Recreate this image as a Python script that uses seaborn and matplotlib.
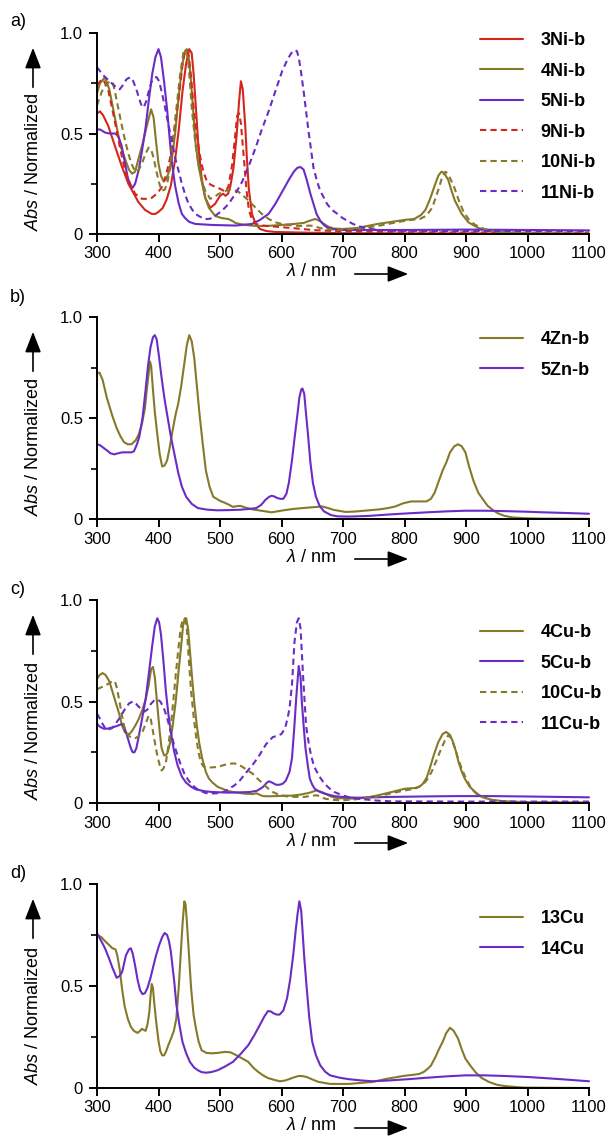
import numpy as np
import pandas as pd
import matplotlib
matplotlib.use("Agg")
import matplotlib.pyplot as plt
import seaborn as sns

# ---------------- data ----------------
# Panel a
ni3_x = [300,305,310,318,330,340,351,360,367,378,389,395,400,407,413,420,427,433,439,445,450,454,457,461,465,470,476,484,492,500,505,509,513,517,522,527,531,534,537,541,544,547,552,558,565,575,590,650,700,800,900,1000,1100]
ni3_y = [0.60,0.61,0.59,0.54,0.43,0.34,0.25,0.20,0.16,0.12,0.10,0.10,0.11,0.13,0.17,0.24,0.37,0.52,0.71,0.85,0.92,0.90,0.80,0.62,0.43,0.28,0.18,0.13,0.15,0.19,0.20,0.19,0.20,0.24,0.33,0.49,0.66,0.76,0.72,0.54,0.36,0.22,0.10,0.05,0.025,0.015,0.01,0.006,0.004,0.003,0.003,0.002,0.002]

ni4_x = [300,305,313,320,329,338,346,352,357,362,368,375,382,388,392,396,400,404,408,412,416,422,427,432,438,443,446,449,452,456,460,465,471,476,482,492,502,514,520,525,535,547,560,576,600,620,636,645,655,662,669,677,685,700,723,740,756,778,800,816,827,834,841,849,855,860,864,871,876,882,888,893,904,920,942,960,1000,1100]
ni4_y = [0.70,0.75,0.78,0.72,0.58,0.44,0.37,0.32,0.30,0.31,0.38,0.46,0.55,0.62,0.58,0.46,0.35,0.29,0.265,0.27,0.30,0.38,0.50,0.66,0.83,0.91,0.92,0.88,0.79,0.63,0.46,0.34,0.25,0.18,0.13,0.09,0.08,0.074,0.065,0.055,0.048,0.043,0.04,0.04,0.045,0.05,0.055,0.065,0.075,0.065,0.05,0.035,0.027,0.025,0.03,0.04,0.05,0.06,0.07,0.075,0.095,0.12,0.17,0.24,0.29,0.31,0.305,0.27,0.22,0.165,0.13,0.10,0.058,0.03,0.014,0.008,0.004,0.002]

ni5_x = [300,305,313,320,329,334,340,345,350,355,358,362,368,373,379,384,390,395,400,404,409,414,418,422,427,433,438,443,450,460,487,525,552,565,579,590,601,612,620,626,631,636,641,647,652,657,663,669,674,685,696,800,900,1000,1100]
ni5_y = [0.52,0.52,0.505,0.50,0.50,0.49,0.44,0.36,0.28,0.235,0.23,0.25,0.32,0.41,0.53,0.66,0.80,0.88,0.92,0.88,0.76,0.62,0.48,0.35,0.24,0.15,0.10,0.08,0.06,0.05,0.045,0.042,0.05,0.07,0.10,0.15,0.21,0.27,0.31,0.33,0.333,0.32,0.27,0.20,0.15,0.10,0.066,0.045,0.033,0.024,0.02,0.02,0.022,0.02,0.018]

ni9_x = [300,305,310,318,329,338,346,354,362,373,381,389,397,405,412,419,426,433,439,443,447,449,453,457,462,468,473,479,485,492,500,509,514,520,524,528,531,534,539,543,547,552,558,570,585,600,623,650,700,800,900,1000,1100]
ni9_y = [0.74,0.76,0.77,0.72,0.56,0.42,0.31,0.25,0.20,0.175,0.175,0.18,0.20,0.23,0.29,0.38,0.52,0.68,0.84,0.91,0.91,0.89,0.78,0.63,0.50,0.38,0.31,0.26,0.245,0.235,0.225,0.21,0.24,0.35,0.47,0.59,0.60,0.55,0.37,0.22,0.12,0.07,0.05,0.042,0.038,0.034,0.028,0.02,0.012,0.009,0.008,0.007,0.007]

ni10_x = [300,308,314,321,326,329,335,340,346,351,356,362,368,373,379,384,388,392,396,400,405,410,414,419,424,430,435,441,445,448,451,454,460,465,471,476,484,491,498,506,514,522,530,538,547,558,568,579,590,605,623,636,645,652,660,669,685,700,730,760,790,810,825,835,845,855,862,867,872,880,888,896,905,915,930,950,975,1000,1100]
ni10_y = [0.64,0.71,0.74,0.76,0.75,0.71,0.62,0.545,0.46,0.40,0.35,0.31,0.32,0.35,0.40,0.43,0.42,0.38,0.32,0.265,0.215,0.22,0.25,0.33,0.48,0.65,0.79,0.91,0.91,0.87,0.76,0.63,0.45,0.35,0.26,0.215,0.175,0.185,0.20,0.21,0.22,0.22,0.21,0.19,0.165,0.13,0.10,0.075,0.058,0.047,0.041,0.04,0.042,0.04,0.032,0.025,0.021,0.022,0.028,0.042,0.06,0.07,0.075,0.09,0.13,0.22,0.29,0.31,0.29,0.24,0.17,0.11,0.07,0.045,0.025,0.012,0.006,0.004,0.002]

ni11_x = [300,305,310,317,324,331,337,342,348,354,359,365,370,373,376,380,385,389,394,397,401,405,410,416,422,427,433,438,444,449,455,460,468,476,484,492,503,514,525,536,547,558,568,579,590,601,610,616,621,625,628,632,636,640,644,648,652,658,663,669,674,682,691,699,707,715,723,734,745,760,778,850,950,1100]
ni11_y = [0.83,0.81,0.79,0.77,0.75,0.73,0.72,0.74,0.77,0.78,0.76,0.71,0.66,0.635,0.63,0.66,0.72,0.76,0.78,0.78,0.76,0.71,0.64,0.545,0.46,0.38,0.31,0.25,0.19,0.15,0.12,0.10,0.085,0.074,0.076,0.09,0.115,0.15,0.20,0.26,0.34,0.43,0.52,0.61,0.71,0.81,0.87,0.90,0.915,0.91,0.88,0.80,0.71,0.61,0.51,0.42,0.33,0.26,0.215,0.18,0.15,0.12,0.10,0.08,0.066,0.052,0.041,0.032,0.025,0.02,0.016,0.015,0.015,0.015]

# Panel b
zn4_x = [300,304,309,316,325,332,338,344,350,356,363,368,373,378,381,384,386,388,391,394,398,402,406,410,414,418,423,428,432,437,442,446,450,454,458,462,467,472,477,483,489,500,508,515,521,528,533,540,552,565,584,603,620,634,650,666,675,685,704,720,742,760,773,785,798,811,825,836,843,849,856,862,868,874,881,887,893,899,905,912,920,928,935,943,952,962,975,994,1020,1100]
zn4_y = [0.72,0.725,0.69,0.60,0.51,0.45,0.41,0.38,0.37,0.37,0.39,0.42,0.47,0.55,0.64,0.72,0.78,0.76,0.64,0.53,0.42,0.32,0.26,0.265,0.29,0.35,0.44,0.52,0.57,0.66,0.77,0.86,0.91,0.88,0.80,0.67,0.51,0.37,0.24,0.16,0.11,0.09,0.08,0.07,0.06,0.064,0.065,0.058,0.048,0.042,0.033,0.043,0.05,0.054,0.058,0.062,0.055,0.045,0.035,0.037,0.043,0.048,0.054,0.062,0.078,0.087,0.087,0.087,0.10,0.13,0.19,0.24,0.28,0.33,0.36,0.37,0.36,0.33,0.26,0.19,0.13,0.095,0.066,0.046,0.028,0.016,0.008,0.004,0.002,0.001]

zn5_x = [300,305,316,322,328,334,341,350,356,360,365,369,374,379,383,387,391,394,397,401,405,410,415,420,426,432,438,445,454,464,480,496,515,533,548,559,567,574,580,584,588,593,598,603,608,612,617,622,626,629,632,634,637,639,643,647,651,656,662,669,680,691,710,740,773,800,836,870,899,930,962,1000,1026,1060,1100]
zn5_y = [0.37,0.365,0.34,0.325,0.32,0.325,0.33,0.33,0.33,0.335,0.37,0.41,0.50,0.64,0.76,0.85,0.90,0.91,0.89,0.80,0.70,0.59,0.50,0.41,0.32,0.23,0.16,0.11,0.075,0.054,0.046,0.043,0.044,0.046,0.05,0.054,0.07,0.095,0.11,0.115,0.112,0.104,0.10,0.10,0.125,0.18,0.29,0.42,0.52,0.60,0.64,0.646,0.62,0.55,0.42,0.28,0.18,0.11,0.065,0.038,0.02,0.013,0.012,0.015,0.022,0.027,0.033,0.038,0.041,0.041,0.039,0.036,0.033,0.03,0.026]

# Panel c
cu4_x = [300,304,309,314,320,325,330,336,341,345,349,353,358,363,368,374,379,384,388,391,394,396,399,402,405,409,412,415,419,423,428,433,437,440,443,445,448,450,454,458,462,466,471,477,482,488,496,504,512,521,530,540,553,559,565,570,580,591,605,616,630,645,657,665,672,680,690,724,740,757,779,800,817,824,830,836,841,848,855,862,868,874,879,884,888,893,898,906,915,923,931,942,960,1000,1100]
cu4_y = [0.61,0.63,0.64,0.63,0.60,0.55,0.50,0.44,0.38,0.35,0.34,0.34,0.36,0.385,0.415,0.46,0.51,0.58,0.66,0.67,0.62,0.55,0.45,0.35,0.27,0.235,0.235,0.25,0.30,0.38,0.50,0.66,0.78,0.875,0.91,0.91,0.86,0.79,0.64,0.50,0.39,0.30,0.22,0.153,0.12,0.10,0.08,0.07,0.06,0.054,0.05,0.046,0.044,0.048,0.04,0.034,0.033,0.034,0.036,0.036,0.041,0.05,0.062,0.055,0.045,0.032,0.024,0.021,0.028,0.038,0.054,0.07,0.074,0.08,0.095,0.125,0.17,0.24,0.30,0.34,0.35,0.335,0.30,0.25,0.20,0.155,0.12,0.08,0.054,0.036,0.025,0.016,0.009,0.004,0.002]

cu5_x = [300,305,311,317,322,328,333,337,340,344,347,351,355,358,361,364,368,373,379,384,390,394,398,401,404,408,412,416,420,425,431,438,445,453,461,475,488,515,548,560,570,576,580,585,591,597,602,607,613,617,621,624,628,631,633,636,639,643,646,650,654,662,670,686,705,724,779,850,888,942,1000,1050,1100]
cu5_y = [0.39,0.375,0.366,0.366,0.37,0.375,0.38,0.385,0.39,0.375,0.35,0.31,0.27,0.25,0.25,0.27,0.33,0.41,0.51,0.63,0.78,0.87,0.91,0.89,0.83,0.70,0.55,0.44,0.35,0.26,0.186,0.13,0.10,0.08,0.067,0.058,0.054,0.051,0.054,0.06,0.079,0.10,0.107,0.10,0.09,0.09,0.095,0.11,0.153,0.22,0.38,0.52,0.675,0.62,0.50,0.38,0.27,0.18,0.12,0.09,0.07,0.055,0.046,0.034,0.028,0.026,0.03,0.033,0.034,0.034,0.032,0.03,0.028]

cu10_x = [300,307,314,320,325,329,332,336,340,344,348,352,357,363,368,374,379,384,387,390,394,398,402,405,408,412,416,420,424,428,432,436,439,441,443,446,449,453,457,461,465,469,473,477,485,493,502,510,518,523,530,537,545,553,561,570,578,586,596,608,622,637,648,657,664,670,680,697,720,752,775,800,817,830,838,844,852,860,866,871,876,882,887,893,900,909,917,926,942,960,1000,1100]
cu10_y = [0.56,0.57,0.58,0.59,0.60,0.60,0.57,0.51,0.44,0.38,0.345,0.33,0.32,0.32,0.33,0.35,0.39,0.43,0.42,0.37,0.30,0.235,0.185,0.16,0.17,0.20,0.28,0.38,0.50,0.63,0.75,0.86,0.90,0.91,0.90,0.86,0.72,0.55,0.43,0.33,0.25,0.20,0.18,0.177,0.175,0.177,0.183,0.19,0.194,0.195,0.19,0.177,0.16,0.145,0.12,0.095,0.072,0.054,0.04,0.033,0.03,0.03,0.035,0.038,0.032,0.022,0.016,0.013,0.018,0.03,0.045,0.062,0.07,0.09,0.12,0.153,0.21,0.27,0.31,0.333,0.32,0.27,0.22,0.17,0.12,0.07,0.045,0.03,0.013,0.007,0.003,0.002]

cu11_x = [300,304,309,313,317,321,325,330,336,342,347,352,358,362,366,371,377,382,388,393,398,403,409,414,420,425,431,436,442,448,453,460,466,477,488,499,507,515,524,532,540,548,556,564,570,575,581,586,593,600,606,610,613,617,621,625,628,631,635,638,640,644,648,653,659,664,670,678,686,697,708,720,735,755,779,900,1000,1100]
cu11_y = [0.44,0.42,0.39,0.37,0.36,0.365,0.37,0.39,0.415,0.445,0.47,0.49,0.50,0.495,0.48,0.465,0.45,0.46,0.49,0.505,0.51,0.50,0.465,0.42,0.35,0.29,0.235,0.19,0.145,0.115,0.095,0.075,0.062,0.049,0.047,0.049,0.056,0.07,0.088,0.11,0.14,0.17,0.20,0.235,0.265,0.29,0.31,0.325,0.33,0.34,0.37,0.42,0.465,0.58,0.79,0.89,0.91,0.86,0.63,0.48,0.38,0.30,0.235,0.18,0.145,0.12,0.095,0.072,0.054,0.04,0.03,0.023,0.018,0.012,0.008,0.007,0.007,0.007]

# Panel d
cu13_x = [300,307,313,320,325,330,333,337,341,345,350,355,360,366,370,373,376,379,382,385,387,389,391,393,396,400,403,406,409,412,416,420,425,429,433,436,439,442,444,446,449,453,457,461,465,470,478,486,496,508,517,527,536,546,554,562,570,578,588,597,605,612,620,628,635,641,650,660,679,710,748,773,798,815,824,832,838,843,850,856,862,868,874,880,887,893,899,907,915,925,937,950,962,980,994,1100]
cu13_y = [0.75,0.74,0.72,0.70,0.685,0.68,0.65,0.58,0.48,0.40,0.34,0.30,0.28,0.27,0.28,0.29,0.285,0.28,0.31,0.37,0.45,0.51,0.49,0.42,0.33,0.23,0.18,0.16,0.16,0.177,0.21,0.24,0.28,0.34,0.50,0.65,0.80,0.915,0.90,0.82,0.68,0.49,0.36,0.29,0.23,0.185,0.172,0.17,0.172,0.177,0.175,0.16,0.145,0.128,0.10,0.079,0.062,0.049,0.04,0.033,0.036,0.043,0.052,0.059,0.058,0.054,0.042,0.03,0.02,0.02,0.03,0.046,0.059,0.065,0.069,0.08,0.095,0.11,0.15,0.19,0.226,0.27,0.295,0.28,0.243,0.19,0.144,0.11,0.079,0.05,0.03,0.016,0.01,0.005,0.002,0.0]

cu14_x = [300,307,313,319,325,332,337,341,347,352,355,358,362,366,370,374,378,382,387,391,396,401,406,410,414,417,420,423,426,429,434,439,445,451,458,464,470,477,486,496,508,521,533,546,556,565,572,578,583,587,592,597,603,609,614,619,623,626,629,632,634,637,641,645,650,656,663,671,679,695,710,730,748,775,805,835,868,899,930,962,1000,1026,1060,1100]
cu14_y = [0.76,0.72,0.685,0.64,0.59,0.54,0.55,0.57,0.65,0.68,0.685,0.66,0.60,0.53,0.48,0.46,0.465,0.49,0.54,0.59,0.65,0.70,0.74,0.76,0.75,0.72,0.67,0.59,0.51,0.41,0.31,0.226,0.17,0.128,0.10,0.087,0.078,0.075,0.078,0.087,0.105,0.128,0.165,0.21,0.26,0.31,0.35,0.377,0.375,0.366,0.36,0.36,0.38,0.44,0.53,0.65,0.77,0.85,0.915,0.87,0.78,0.64,0.49,0.35,0.226,0.16,0.111,0.08,0.062,0.05,0.043,0.037,0.033,0.037,0.043,0.05,0.057,0.062,0.062,0.059,0.054,0.049,0.042,0.033]

x_ticks = [300, 400, 500, 600, 700, 800, 900, 1000, 1100]
y_ticks = [0, 0.5, 1.0]
y_ticklabels = ["0", "0.5", "1.0"]
panel_letters = ["a)", "b)", "c)", "d)"]

# ---------------- style ----------------
RED = "#d5261d"
OLIVE = "#85792a"
PURPLE = "#6a2cc4"
SOLID = "-"
DASH = (0, (3, 2))

sns.set_style("ticks")
plt.rcParams["font.family"] = ["Liberation Sans", "DejaVu Sans"]
plt.rcParams["mathtext.fontset"] = "custom"
plt.rcParams["mathtext.it"] = "Liberation Sans:italic"
plt.rcParams["mathtext.rm"] = "Liberation Sans"
for k in ["text.color", "axes.labelcolor", "xtick.color", "ytick.color", "axes.edgecolor"]:
    plt.rcParams[k] = "black"

panels = [
    [("3Ni-b", ni3_x, ni3_y, RED, SOLID), ("4Ni-b", ni4_x, ni4_y, OLIVE, SOLID),
     ("5Ni-b", ni5_x, ni5_y, PURPLE, SOLID), ("9Ni-b", ni9_x, ni9_y, RED, DASH),
     ("10Ni-b", ni10_x, ni10_y, OLIVE, DASH), ("11Ni-b", ni11_x, ni11_y, PURPLE, DASH)],
    [("4Zn-b", zn4_x, zn4_y, OLIVE, SOLID), ("5Zn-b", zn5_x, zn5_y, PURPLE, SOLID)],
    [("4Cu-b", cu4_x, cu4_y, OLIVE, SOLID), ("5Cu-b", cu5_x, cu5_y, PURPLE, SOLID),
     ("10Cu-b", cu10_x, cu10_y, OLIVE, DASH), ("11Cu-b", cu11_x, cu11_y, PURPLE, DASH)],
    [("13Cu", cu13_x, cu13_y, OLIVE, SOLID), ("14Cu", cu14_x, cu14_y, PURPLE, SOLID)],
]

W, H = 606, 1137
fig = plt.figure(figsize=(W / 100, H / 100), dpi=100)

# pixel layout
tops = [33, 317, 600, 884]
bots = [234, 519, 803, 1088]
leg_rows = [40, 339, 632, 918]
lab_y = [22, 298, 589, 873]
AX_L, AX_R = 97, 589

def fx(px):
    return px / W

def fy(py):
    return 1 - py / H

for i, series in enumerate(panels):
    T, B = tops[i], bots[i]
    ax = fig.add_axes([fx(AX_L), fy(B), fx(AX_R - AX_L), (B - T) / H])
    for name, xs, ys, col, ls in series:
        df = pd.DataFrame({"wl": xs, "abs": ys})
        sns.lineplot(data=df, x="wl", y="abs", ax=ax, color=col, linestyle=ls,
                     lw=1.5, label=name, sort=False, estimator=None, clip_on=False)
    ax.set_xlim(300, 1100)
    ax.set_ylim(0, 1.0)
    ax.set_xticks(x_ticks)
    ax.set_yticks(y_ticks)
    ax.set_yticklabels(y_ticklabels)
    ax.set_yticks([0.25, 0.75], minor=True)
    ax.set_xlabel("")
    ax.set_ylabel("")
    for s in ["top", "right"]:
        ax.spines[s].set_visible(False)
    for s in ["left", "bottom"]:
        ax.spines[s].set_linewidth(1.4)
    ax.tick_params(axis="both", which="major", length=6, width=1.4, labelsize=12, pad=3)
    ax.tick_params(axis="y", which="minor", length=4, width=1.2)
    ax.tick_params(axis="y", which="major", pad=4)

    handles, labels = ax.get_legend_handles_labels()
    ax.legend(handles, labels, loc="upper left", frameon=False,
              bbox_to_anchor=(fx(480), fy(leg_rows[i] - 8)), bbox_transform=fig.transFigure,
              borderpad=0, borderaxespad=0, handlelength=2.4, handletextpad=0.95,
              labelspacing=0.75, prop={"weight": "bold", "size": 13})

    # y label with arrow
    fig.text(fx(33), fy(B - 72), r"$\mathit{Abs}$ / Normalized", rotation=90,
             ha="center", va="center", fontsize=13)
    fig.add_artist(matplotlib.patches.FancyArrowPatch(
        (fx(33), fy(T + 57)), (fx(33), fy(T + 12)), transform=fig.transFigure,
        arrowstyle="-|>,head_length=0.9,head_width=0.35", mutation_scale=14,
        color="black", lw=1.2))
    # x label with arrow
    fig.text(fx(311), fy(B + 38), r"$\mathit{\lambda}$ / nm", ha="center", va="center",
             fontsize=13)
    fig.add_artist(matplotlib.patches.FancyArrowPatch(
        (fx(352), fy(B + 40)), (fx(411), fy(B + 40)), transform=fig.transFigure,
        arrowstyle="-|>,head_length=0.9,head_width=0.35", mutation_scale=14,
        color="black", lw=1.2))
    # panel letter
    fig.text(fx(10), fy(lab_y[i]), panel_letters[i], ha="left", va="center", fontsize=13)

fig.savefig("out.png", dpi=100)
